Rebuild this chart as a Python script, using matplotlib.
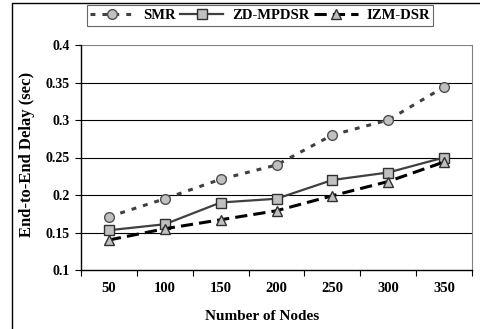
import matplotlib
matplotlib.use("Agg")
import matplotlib.pyplot as plt
from matplotlib.patches import Rectangle
import numpy as np

nodes = ["50", "100", "150", "200", "250", "300", "350"]
smr = [0.171, 0.195, 0.221, 0.240, 0.280, 0.300, 0.344]
zd_mpdsr = [0.153, 0.161, 0.190, 0.195, 0.220, 0.230, 0.250]
izm_dsr = [0.140, 0.155, 0.167, 0.179, 0.199, 0.218, 0.244]
yticks = [0.1, 0.15, 0.2, 0.25, 0.3, 0.35, 0.4]
ytick_labels = ["0.1", "0.15", "0.2", "0.25", "0.3", "0.35", "0.4"]

plt.rcParams['font.family'] = ['Liberation Serif', 'DejaVu Serif']
plt.rcParams['font.weight'] = 'bold'

fig = plt.figure(figsize=(4.8, 3.29), dpi=100)
ax = fig.add_axes([81/480, 1-270/329, (472-81)/480, (270-45)/329])

x = np.arange(len(nodes))
ax.plot(x, smr, linestyle=(0, (1.6, 2.3)), color='#404040', lw=2.2,
        marker='o', markersize=7, markerfacecolor='#c0c0c0', markeredgecolor='#505050',
        markeredgewidth=1, label='SMR', zorder=3)
ax.plot(x, zd_mpdsr, linestyle='-', color='#404040', lw=1.6,
        marker='s', markersize=6.5, markerfacecolor='#c0c0c0', markeredgecolor='#303030',
        markeredgewidth=1, label='ZD-MPDSR', zorder=4)
ax.plot(x, izm_dsr, linestyle=(0, (4, 2)), color='black', lw=2.2,
        marker='^', markersize=7.5, markerfacecolor='#c0c0c0', markeredgecolor='#303030',
        markeredgewidth=1, label='IZM-DSR', zorder=5)

ax.set_xlim(-0.5, len(nodes) - 0.5)
ax.set_ylim(0.1, 0.4)
ax.set_yticks(yticks)
ax.set_yticklabels(ytick_labels, fontsize=10, fontweight='bold')
ax.set_xticks(np.arange(-0.5, len(nodes)), minor=False)
ax.set_xticklabels([])
ax.set_xticks(x, minor=True)
ax.set_xticklabels(nodes, minor=True, fontsize=10.5, fontweight='bold')
ax.tick_params(axis='x', which='minor', length=0, pad=9)
ax.tick_params(axis='x', which='major', length=4, direction='out', color='black')
ax.tick_params(axis='y', length=4, direction='out', pad=4)

for yv in yticks[1:-1]:
    ax.axhline(yv, color='black', lw=0.8, zorder=1)
ax.axhline(0.4, color='#808080', lw=0.8, zorder=1)

ax.spines['top'].set_visible(False)
ax.spines['right'].set_color('#808080')
ax.spines['right'].set_linewidth(0.8)
ax.spines['left'].set_color('black')
ax.spines['bottom'].set_color('black')
ax.spines['left'].set_linewidth(1)
ax.spines['bottom'].set_linewidth(1)

fig.text(262/480, 1-316/329, 'Number of Nodes', fontsize=11, fontweight='bold',
         ha='center', va='center')
fig.text(27/480, 1-154/329, 'End-to-End Delay (sec)', fontsize=12, fontweight='bold',
         ha='center', va='center', rotation=90)

leg = fig.legend(loc='center', bbox_to_anchor=(260/480, 1-15.5/329), ncol=3,
                 frameon=True, fancybox=False, edgecolor='#404040',
                 handlelength=3.0, columnspacing=0.3, handletextpad=0.6,
                 borderpad=0.25, borderaxespad=0,
                 prop={'weight': 'bold', 'size': 10.5})
leg.get_frame().set_linewidth(0.8)

fig.patches.append(Rectangle((12/480, -0.1), 1.2, 1.1 - 3/329, transform=fig.transFigure,
                             fill=False, edgecolor='black', lw=1))

fig.savefig('out.png', dpi=100)
